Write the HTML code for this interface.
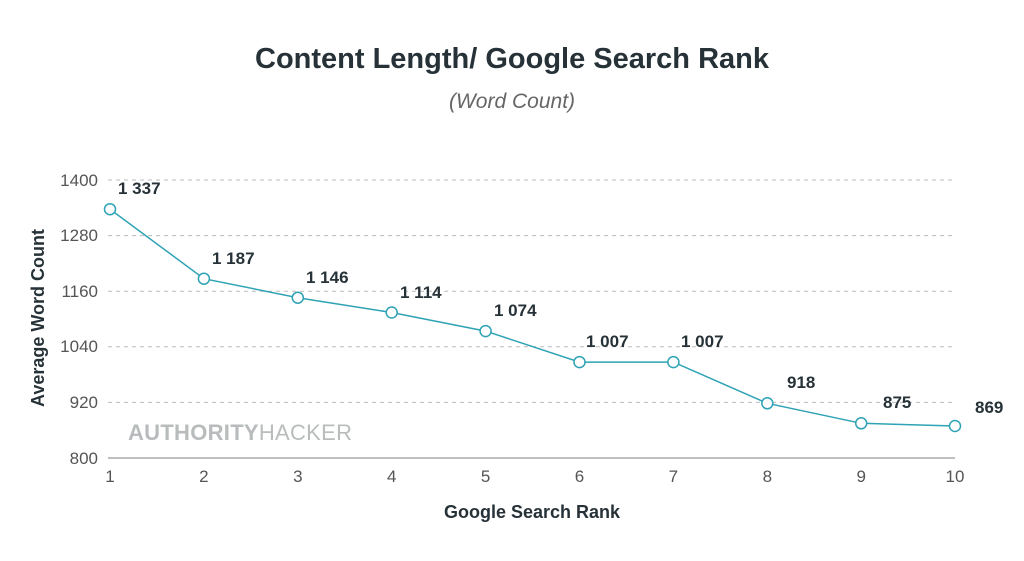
<!DOCTYPE html><html><head><meta charset="utf-8"><style>body{margin:0;background:#fff}</style></head><body>
<svg width="1024" height="556" xmlns="http://www.w3.org/2000/svg" font-family="Liberation Sans, sans-serif">
<text x="512" y="68" text-anchor="middle" font-size="29" font-weight="bold" fill="#263238">Content Length/ Google Search Rank</text>
<text x="512" y="108" text-anchor="middle" font-size="21" font-style="italic" fill="#666">(Word Count)</text>
<g stroke="#bbb" stroke-dasharray="4,4" stroke-width="1">
<line x1="108" x2="955" y1="180" y2="180"/><line x1="108" x2="955" y1="235.6" y2="235.6"/><line x1="108" x2="955" y1="291.2" y2="291.2"/><line x1="108" x2="955" y1="346.8" y2="346.8"/><line x1="108" x2="955" y1="402.4" y2="402.4"/></g>
<line x1="108" x2="955" y1="458" y2="458" stroke="#aaa" stroke-width="1.5"/>
<g font-size="17" fill="#555" text-anchor="end">
<text x="98" y="186">1400</text><text x="98" y="241">1280</text><text x="98" y="297">1160</text><text x="98" y="352">1040</text><text x="98" y="408">920</text><text x="98" y="464">800</text></g>
<g font-size="17" fill="#555" text-anchor="middle">
<text x="110" y="482">1</text><text x="203.9" y="482">2</text><text x="297.8" y="482">3</text><text x="391.7" y="482">4</text><text x="485.6" y="482">5</text><text x="579.5" y="482">6</text><text x="673.4" y="482">7</text><text x="767.3" y="482">8</text><text x="861.2" y="482">9</text><text x="955" y="482">10</text></g>
<text x="532" y="518" text-anchor="middle" font-size="18" font-weight="bold" fill="#263238">Google Search Rank</text>
<text transform="translate(44,318) rotate(-90)" text-anchor="middle" font-size="18" font-weight="bold" fill="#263238">Average Word Count</text>
<text x="128" y="440" font-size="22" fill="#b8bcbc" textLength="224"><tspan font-weight="bold">AUTHORITY</tspan>HACKER</text>
<polyline fill="none" stroke="#2ea3b5" stroke-width="1.5" points="110,209.2 203.9,278.7 297.8,297.7 391.7,312.5 485.6,331.1 579.5,362.1 673.4,362.1 767.3,403.3 861.2,423.3 955,426"/>
<g fill="#fff" stroke="#2ea3b5" stroke-width="1.5">
<circle cx="110" cy="209.2" r="5.5"/><circle cx="203.9" cy="278.7" r="5.5"/><circle cx="297.8" cy="297.7" r="5.5"/><circle cx="391.7" cy="312.5" r="5.5"/><circle cx="485.6" cy="331.1" r="5.5"/><circle cx="579.5" cy="362.1" r="5.5"/><circle cx="673.4" cy="362.1" r="5.5"/><circle cx="767.3" cy="403.3" r="5.5"/><circle cx="861.2" cy="423.3" r="5.5"/><circle cx="955" cy="426" r="5.5"/></g>
<g font-size="17" font-weight="bold" fill="#263238">
<text x="118" y="194">1 337</text><text x="212" y="264">1 187</text><text x="306" y="283">1 146</text><text x="400" y="298">1 114</text><text x="494" y="316">1 074</text><text x="586" y="347">1 007</text><text x="681" y="347">1 007</text><text x="787" y="388">918</text><text x="883" y="408">875</text><text x="975" y="413">869</text></g>
</svg></body></html>
